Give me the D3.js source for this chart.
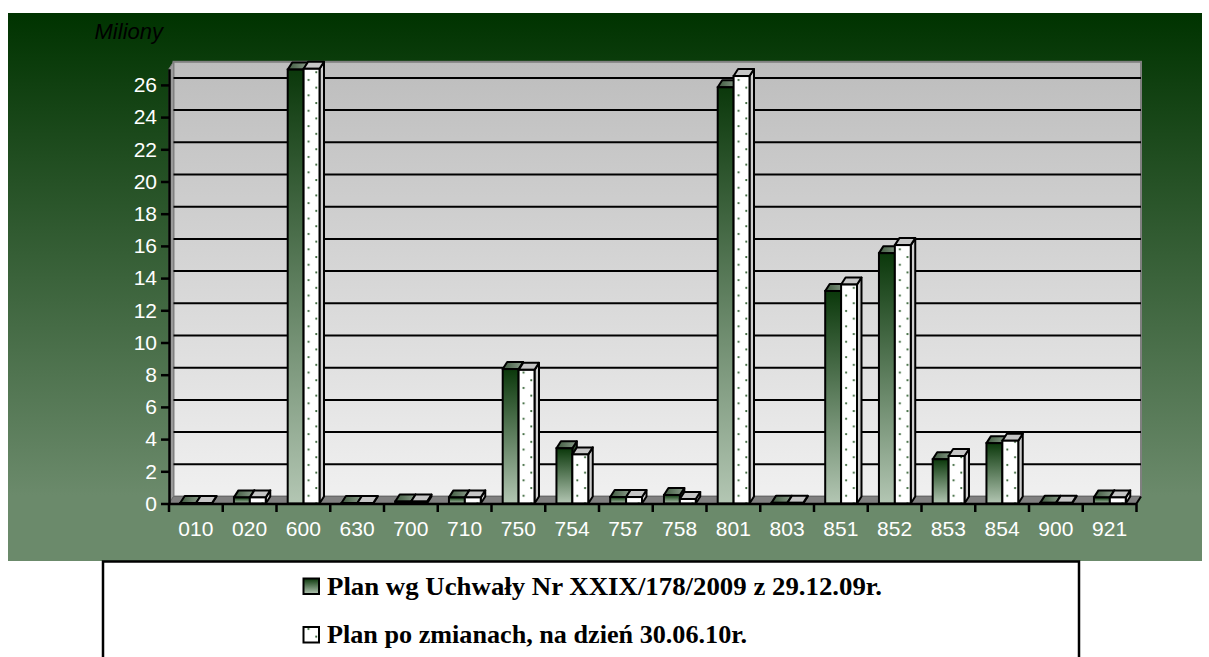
<!DOCTYPE html>
<html>
<head>
<meta charset="utf-8">
<script src="https://cdn.jsdelivr.net/npm/d3@7"></script>
<style>
  html, body { margin: 0; padding: 0; background: #ffffff; }
  svg { display: block; }
</style>
</head>
<body>
<div id="chart"></div>
<script>
// ---- data ----
const categories = ["010","020","600","630","700","710","750","754","757","758","801","803","851","852","853","854","900","921"];
const seriesNames = ["Plan wg Uchwały Nr XXIX/178/2009 z 29.12.09r.", "Plan po zmianach, na dzień 30.06.10r."];
const planUchwala = [0.03, 0.38, 26.95, 0.03, 0.12, 0.38, 8.35, 3.43, 0.4, 0.53, 25.85, 0.04, 13.2, 15.55, 2.75, 3.75, 0.04, 0.38];
const planZmiany  = [0.03, 0.38, 27.0, 0.03, 0.12, 0.38, 8.3, 3.05, 0.4, 0.28, 26.55, 0.04, 13.6, 16.05, 2.95, 3.9, 0.04, 0.38];
const yTicks = [0,2,4,6,8,10,12,14,16,18,20,22,24,26];
const yMax = 27;
const yUnitLabel = "Miliony";

// ---- layout ----
const W = 1209, H = 657;
const X0 = 169, X1 = 1136.5, Y0 = 503.5, YT = 68.8;
const DX = 4.5, DY = -7;

const svg = d3.select("#chart").append("svg").attr("width", W).attr("height", H);
const defs = svg.append("defs");

function lin(id, stops, horiz) {
  const g = defs.append("linearGradient").attr("id", id)
    .attr("x1", 0).attr("y1", 0).attr("x2", horiz ? 1 : 0).attr("y2", horiz ? 0 : 1);
  stops.forEach(s => g.append("stop").attr("offset", s[0]).attr("stop-color", s[1]));
}
lin("bgGrad", [[0, "#003300"], [0.88, "#6b8a6b"], [1, "#6b8a6b"]]);
lin("wallGrad", [[0, "#bdbdbd"], [1, "#f0f0f0"]]);
lin("s1Grad", [[0, "#0b380b"], [1, "#b3c6b3"]]);
lin("s1TopGrad", [[0, "#3f5a3f"], [1, "#8a9c8a"]], true);

const x = d3.scaleBand().domain(categories).range([X0, X1]).padding(0);
const xs = d3.scaleBand().domain([0, 1]).range([11.2, 43]).padding(0);
const y = d3.scaleLinear().domain([0, yMax]).range([Y0, YT]);

// background
svg.append("rect").attr("x", 8).attr("y", 13).attr("width", 1194).attr("height", 548)
  .attr("fill", "url(#bgGrad)");

// back wall
svg.append("rect").attr("x", X0 + DX).attr("y", y(yMax) + DY)
  .attr("width", X1 - X0).attr("height", Y0 - y(yMax))
  .attr("fill", "url(#wallGrad)").attr("stroke", "#808080").attr("stroke-width", 2);

// left side wall
svg.append("polygon")
  .attr("points", [[X0, Y0], [X0 + DX, Y0 + DY], [X0 + DX, y(yMax) + DY], [X0, y(yMax)]].map(p => p.join(",")).join(" "))
  .attr("fill", "#9a9a9a").attr("stroke", "#808080").attr("stroke-width", 1);

// floor
svg.append("polygon")
  .attr("points", [[X0, Y0], [X1, Y0], [X1 + DX, Y0 + DY], [X0 + DX, Y0 + DY]].map(p => p.join(",")).join(" "))
  .attr("fill", "#808080").attr("stroke", "#6a6a6a").attr("stroke-width", 1);

// gridlines on back wall
svg.append("g").selectAll("line").data(yTicks.filter(v => v > 0)).join("line")
  .attr("x1", X0 + DX).attr("x2", X1 + DX)
  .attr("y1", d => y(d) + DY).attr("y2", d => y(d) + DY)
  .attr("stroke", "#000").attr("stroke-width", 2);

// dot patterns for series 2
function dotPattern(id, x0, y0) {
  const p = defs.append("pattern").attr("id", id).attr("patternUnits", "userSpaceOnUse")
    .attr("x", x0).attr("y", y0).attr("width", 15.4).attr("height", 15.4);
  p.append("rect").attr("width", 15.4).attr("height", 15.4).attr("fill", "#ffffff");
  p.append("circle").attr("cx", 5).attr("cy", 3).attr("r", 1.1).attr("fill", "#2e5e2e");
  p.append("circle").attr("cx", 12.7).attr("cy", 10.7).attr("r", 1.1).attr("fill", "#2e5e2e");
}

// bars
const rows = categories.map((c, i) => ({ c, i, vals: [planUchwala[i], planZmiany[i]] }));
rows.forEach(r => dotPattern("dots" + r.i, x(r.c) + xs(1), 0));

const gBars = svg.append("g");
rows.forEach(r => {
  const g = gBars.append("g");
  r.vals.forEach((v, s) => {
    const bx = x(r.c) + xs(s), bw = xs.bandwidth(), by = y(v);
    const front = s === 0 ? "url(#s1Grad)" : `url(#dots${r.i})`;
    const top = s === 0 ? "url(#s1TopGrad)" : "#c6c6c6";
    const side = s === 0 ? "#2f4f2f" : "#cfcfcf";
    g.append("polygon")
      .attr("points", [[bx + bw, Y0], [bx + bw, by], [bx + bw + DX, by + DY], [bx + bw + DX, Y0 + DY]].map(p => p.join(",")).join(" "))
      .attr("fill", side).attr("stroke", "#000").attr("stroke-width", 2).attr("stroke-linejoin", "round");
    g.append("polygon")
      .attr("points", [[bx, by], [bx + bw, by], [bx + bw + DX, by + DY], [bx + DX, by + DY]].map(p => p.join(",")).join(" "))
      .attr("fill", top).attr("stroke", "#000").attr("stroke-width", 2).attr("stroke-linejoin", "round");
    g.append("rect").attr("x", bx).attr("y", by).attr("width", bw).attr("height", Math.max(0, Y0 - by))
      .attr("fill", front).attr("stroke", "#000").attr("stroke-width", 2);
  });
});

// y axis
const yAxis = d3.axisLeft(y).tickValues(yTicks).tickSize(8).tickPadding(4).tickSizeOuter(0);
const gy = svg.append("g").attr("transform", `translate(${X0},0)`).call(yAxis);
gy.select(".domain").attr("stroke", "#000").attr("stroke-width", 2.5);
gy.selectAll(".tick line").attr("stroke", "#000").attr("stroke-width", 2.5);
gy.selectAll(".tick text").attr("fill", "#ffffff")
  .style("font-family", "'Liberation Sans', Arial, sans-serif").style("font-size", "21px");

// x axis
const xAxis = d3.axisBottom(x).tickSize(0).tickPadding(18);
const gx = svg.append("g").attr("transform", `translate(0,${Y0})`).call(xAxis);
gx.select(".domain").attr("stroke", "#000").attr("stroke-width", 2.5);
gx.selectAll(".tick text").attr("fill", "#ffffff")
  .style("font-family", "'Liberation Sans', Arial, sans-serif").style("font-size", "21px");
const bounds = categories.map(c => x(c)).concat([X1]);
svg.append("g").selectAll("line").data(bounds).join("line")
  .attr("x1", d => d).attr("x2", d => d).attr("y1", Y0).attr("y2", Y0 + 8.5)
  .attr("stroke", "#000").attr("stroke-width", 2.5);
svg.append("line").attr("x1", X1).attr("y1", Y0).attr("x2", X1 + DX).attr("y2", Y0 + DY)
  .attr("stroke", "#000").attr("stroke-width", 2);

// unit label
svg.append("text").attr("x", 163).attr("y", 39).attr("text-anchor", "end")
  .style("font-family", "'Liberation Sans', Arial, sans-serif").style("font-size", "22px")
  .style("font-style", "italic").attr("fill", "#000").text(yUnitLabel);

// legend
const lg = svg.append("g");
lg.append("rect").attr("x", 103).attr("y", 561.5).attr("width", 976).attr("height", 120)
  .attr("fill", "#ffffff").attr("stroke", "#000").attr("stroke-width", 2.5);
dotPattern("dotsLeg", 303.5, 626);
const legItems = [
  { name: seriesNames[0], fill: "url(#s1Grad)", my: 578.5, ty: 595, len: 555 },
  { name: seriesNames[1], fill: "url(#dotsLeg)", my: 627, ty: 643, len: 420 }
];
legItems.forEach(it => {
  lg.append("rect").attr("x", 303.5).attr("y", it.my).attr("width", 15.5).attr("height", 15.5)
    .attr("fill", it.fill).attr("stroke", "#000").attr("stroke-width", 2);
  lg.append("text").attr("x", 327).attr("y", it.ty)
    .attr("textLength", it.len).attr("lengthAdjust", "spacingAndGlyphs")
    .style("font-family", "'Liberation Serif', 'Times New Roman', serif").style("font-size", "25px")
    .style("font-weight", "bold").attr("fill", "#000").text(it.name);
});
</script>
</body>
</html>
